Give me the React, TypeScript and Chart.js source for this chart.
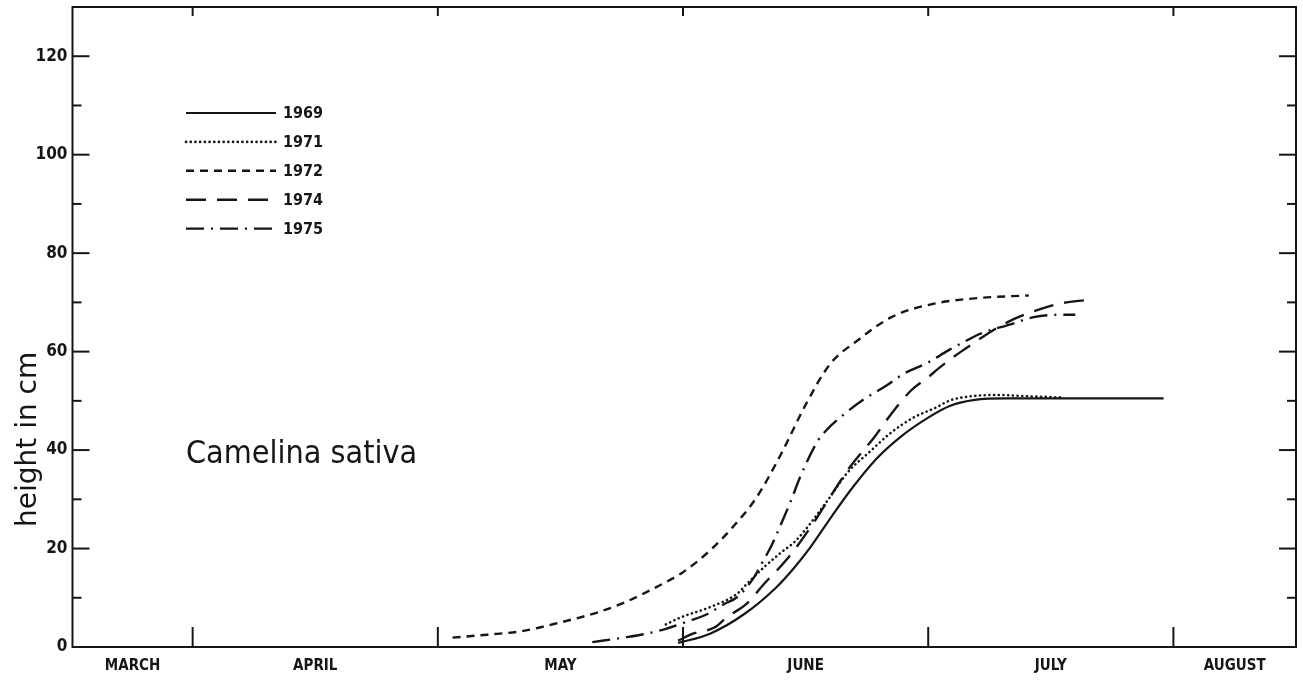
import React, { useEffect, useRef } from 'react';
import { Chart, registerables } from 'chart.js';

Chart.register(...registerables);

// Month axis: 0 = 1 March, 1 = 1 April, ... 5 = 1 August
const monthNames = ['MARCH', 'APRIL', 'MAY', 'JUNE', 'JULY', 'AUGUST'];
const monthLabelPositions = [0.755, 1.5, 2.5, 3.5, 4.5, 5.25];
const monthBoundaries = [1, 2, 3, 4, 5];
const xMin = 0.51;
const xMax = 5.5;
const yMin = 0;
const yMax = 130;
const yStep = 10;
const yLabelStep = 20;
const yLabelMax = 120;

const seriesLabels = ['1969', '1971', '1972', '1974', '1975'];

const x1969 = [2.98, 3.11, 3.25, 3.38, 3.45, 3.52, 3.61, 3.69, 3.79, 3.89, 4.0, 4.09, 4.19, 4.32, 4.6, 4.96];
const y1969 = [0.8, 2.7, 6.7, 12.1, 15.9, 20.3, 26.8, 32.3, 38.3, 42.8, 46.6, 49.0, 50.2, 50.5, 50.5, 50.5];

const x1971 = [2.93, 2.99, 3.11, 3.22, 3.26, 3.33, 3.4, 3.46, 3.59, 3.67, 3.76, 3.85, 3.94, 4.03, 4.09, 4.17, 4.28, 4.42, 4.54];
const y1971 = [4.6, 6.0, 8.1, 10.8, 12.8, 16.2, 19.2, 21.6, 29.8, 35.4, 39.6, 43.6, 46.6, 48.6, 50.1, 50.9, 51.2, 50.9, 50.7];

const x1972 = [2.06, 2.2, 2.34, 2.5, 2.65, 2.75, 2.9, 3.0, 3.11, 3.2, 3.3, 3.4, 3.5, 3.6, 3.71, 3.85, 4.02, 4.21, 4.41];
const y1972 = [1.9, 2.5, 3.2, 5.0, 7.0, 8.8, 12.4, 15.2, 19.6, 24.2, 30.4, 39.2, 49.2, 57.5, 62.2, 67.0, 69.7, 70.9, 71.4];

const x1974 = [2.98, 3.04, 3.13, 3.18, 3.26, 3.33, 3.42, 3.52, 3.6, 3.68, 3.78, 3.85, 3.93, 4.0, 4.04, 4.14, 4.32, 4.46, 4.54, 4.65];
const y1974 = [1.3, 2.7, 4.0, 6.1, 8.8, 12.8, 17.6, 24.3, 30.5, 36.5, 42.6, 47.4, 52.1, 54.8, 56.5, 60.2, 65.9, 68.7, 69.8, 70.5];

const x1975 = [2.63, 2.77, 2.85, 2.93, 3.03, 3.1, 3.17, 3.22, 3.29, 3.32, 3.36, 3.4, 3.44, 3.48, 3.55, 3.59, 3.66, 3.74, 3.83, 3.9, 4.0, 4.08, 4.17, 4.21, 4.34, 4.43, 4.55, 4.6];
const y1975 = [1.0, 2.0, 2.7, 3.7, 5.4, 6.7, 8.8, 10.1, 14.2, 16.9, 20.5, 25.0, 29.7, 34.8, 41.9, 44.3, 47.4, 50.4, 53.1, 55.5, 57.8, 60.2, 62.6, 63.6, 65.6, 67.0, 67.5, 67.5];

const seriesX = [x1969, x1971, x1972, x1974, x1975];
const seriesY = [y1969, y1971, y1972, y1974, y1975];

const INK = '#161616';
const COND = "'DejaVu Sans Condensed', 'DejaVu Sans', sans-serif";

const lineStyles = [
  { dash: [] as number[], width: 2.2, cap: 'butt' as CanvasLineCap },
  { dash: [0.1, 4.6], width: 2.6, cap: 'round' as CanvasLineCap },
  { dash: [8, 6], width: 2.4, cap: 'butt' as CanvasLineCap },
  { dash: [20, 11], width: 2.4, cap: 'butt' as CanvasLineCap },
  { dash: [18, 7, 2, 7], width: 2.4, cap: 'butt' as CanvasLineCap },
];

const decorPlugin = {
  id: 'decor',
  afterDraw(chart: any) {
    const { ctx, chartArea: a, scales } = chart;
    const xs = scales.x;
    const ys = scales.y;
    ctx.save();
    ctx.strokeStyle = INK;
    ctx.fillStyle = INK;
    ctx.lineWidth = 2;
    ctx.setLineDash([]);
    ctx.strokeRect(a.left, a.top, a.right - a.left, a.bottom - a.top);
    const seg = (x1: number, y1: number, x2: number, y2: number) => {
      ctx.beginPath();
      ctx.moveTo(x1, y1);
      ctx.lineTo(x2, y2);
      ctx.stroke();
    };
    for (let v = yMin + yStep; v < yMax; v += yStep) {
      const py = ys.getPixelForValue(v);
      const len = v % yLabelStep === 0 ? 17 : 9;
      seg(a.left, py, a.left + len, py);
      seg(a.right, py, a.right - len, py);
    }
    for (const m of monthBoundaries) {
      const px = xs.getPixelForValue(m);
      seg(px, a.bottom, px, a.bottom - 20);
      seg(px, a.top, px, a.top + 9);
    }
    // legend
    const lx1 = 186;
    const lx2 = 276;
    chart.data.datasets.forEach((ds: any, i: number) => {
      const ly = 113 + i * 28.9;
      const st = lineStyles[i];
      ctx.lineWidth = st.width;
      ctx.lineCap = st.cap;
      ctx.setLineDash(st.dash);
      seg(lx1, ly, lx2, ly);
      ctx.setLineDash([]);
      ctx.lineCap = 'butt';
      ctx.font = `bold 16px ${COND}`;
      ctx.textAlign = 'left';
      ctx.textBaseline = 'middle';
      ctx.fillText(ds.label, 283, ly + 1);
    });
    // species name
    ctx.font = `32px ${COND}`;
    ctx.textAlign = 'left';
    ctx.textBaseline = 'alphabetic';
    ctx.fillText('Camelina sativa', 186, 463);
    // y title
    ctx.save();
    ctx.translate(36, 527);
    ctx.rotate(-Math.PI / 2);
    ctx.font = "28px 'DejaVu Sans', sans-serif";
    ctx.textAlign = 'left';
    ctx.textBaseline = 'alphabetic';
    ctx.fillText('height in cm', 0, 0);
    ctx.restore();
    ctx.restore();
  },
};

export default function App() {
  const ref = useRef<HTMLCanvasElement | null>(null);
  useEffect(() => {
    if (!ref.current) return;
    const datasets = seriesLabels.map((label, i) => ({
      label,
      data: seriesX[i].map((x, j) => ({ x, y: seriesY[i][j] })),
      borderColor: INK,
      borderWidth: lineStyles[i].width,
      borderDash: lineStyles[i].dash,
      borderCapStyle: lineStyles[i].cap,
      pointRadius: 0,
      fill: false,
      cubicInterpolationMode: 'monotone' as const,
    }));
    const chart = new Chart(ref.current, {
      type: 'line',
      data: { datasets },
      options: {
        responsive: false,
        animation: false,
        layout: { padding: { left: 0, right: 7, top: 7, bottom: 0 } },
        plugins: { legend: { display: false }, tooltip: { enabled: false } },
        scales: {
          x: {
            type: 'linear',
            min: xMin,
            max: xMax,
            grid: { display: false, drawTicks: false },
            border: { display: false },
            afterBuildTicks: (axis: any) => {
              axis.ticks = monthLabelPositions.map((v) => ({ value: v }));
            },
            afterFit: (s: any) => {
              s.height = 34;
              s.paddingLeft = 0;
              s.paddingRight = 0;
            },
            ticks: {
              autoSkip: false,
              maxRotation: 0,
              minRotation: 0,
              padding: 10,
              color: INK,
              font: { family: COND, size: 15, weight: 'bold' },
              callback: (_v: any, i: number) => monthNames[i],
            },
          },
          y: {
            type: 'linear',
            min: yMin,
            max: yMax,
            grid: { display: false, drawTicks: false },
            border: { display: false },
            afterFit: (s: any) => {
              s.width = 72.5;
              s.paddingTop = 0;
              s.paddingBottom = 0;
            },
            ticks: {
              stepSize: yStep,
              padding: 5,
              color: INK,
              font: { family: COND, size: 17, weight: 'bold' },
              callback: (v: any) => (v % yLabelStep === 0 && v <= yLabelMax ? String(v) : ''),
            },
          },
        },
      },
      plugins: [decorPlugin],
    });
    return () => chart.destroy();
  }, []);
  return (
    <div style={{ position: 'fixed', left: 0, top: 0, width: 1303, height: 681, background: '#fff' }}>
      <canvas ref={ref} width={1303} height={681} style={{ display: 'block' }} />
    </div>
  );
}
